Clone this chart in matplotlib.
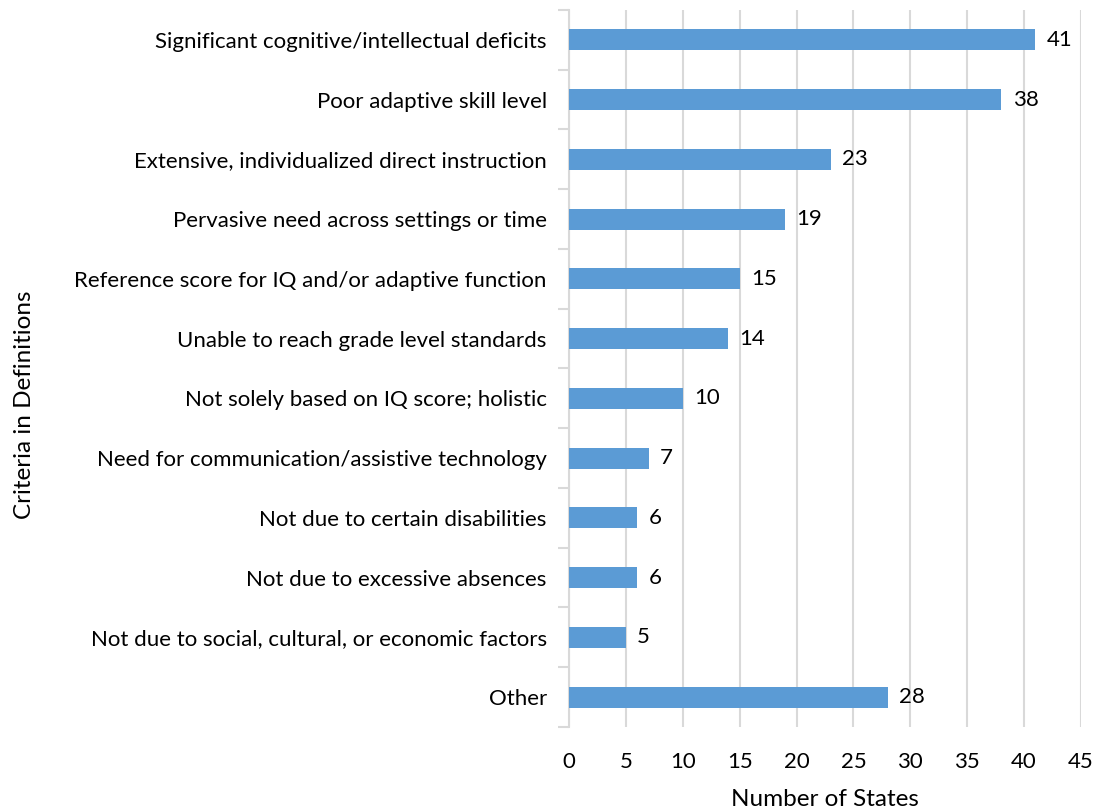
import numpy as np
import matplotlib.pyplot as plt

plt.rcParams['font.family'] = ['Lato', 'DejaVu Sans']

criteria = [
    'Significant cognitive/intellectual deficits',
    'Poor adaptive skill level',
    'Extensive, individualized direct instruction',
    'Pervasive need across settings or time',
    'Reference score for IQ and/or adaptive function',
    'Unable to reach grade level standards',
    'Not solely based on IQ score; holistic',
    'Need for communication/assistive technology',
    'Not due to certain disabilities',
    'Not due to excessive absences',
    'Not due to social, cultural, or economic factors',
    'Other',
]
states = [41, 38, 23, 19, 15, 14, 10, 7, 6, 6, 5, 28]
x_ticks = [0, 5, 10, 15, 20, 25, 30, 35, 40, 45]

fig = plt.figure(figsize=(10.97, 8.10), dpi=100)
ax = fig.add_axes([0.5187, 0.1025, 0.4667, 0.8852])

y = np.arange(len(criteria))
ax.barh(y, states, height=0.35, color='#5B9BD5', zorder=3)
for yi, v in zip(y, states):
    ax.text(v + 1.0, yi, str(v), va='center', ha='left', fontsize=16, color='#000000')

ax.set_ylim(len(criteria) - 0.5, -0.5)
ax.set_xlim(0, 45)
ax.set_xticks(x_ticks)
ax.set_yticks(y)
ax.set_yticklabels(criteria, fontsize=16)
ax.set_yticks(np.arange(len(criteria) + 1) - 0.5, minor=True)
ax.tick_params(axis='y', which='major', length=0, pad=16)
ax.tick_params(axis='y', which='minor', length=8, width=1.5, color='#D9D9D9')
ax.tick_params(axis='x', length=0, labelsize=16, pad=18)

ax.grid(axis='x', color='#D9D9D9', linewidth=1.5, zorder=0)
for side in ['top', 'right', 'bottom']:
    ax.spines[side].set_visible(False)
ax.spines['left'].set_color('#D9D9D9')
ax.spines['left'].set_linewidth(1.5)

ax.set_xlabel('Number of States', fontsize=17.5, labelpad=12)
fig.text(0.022, 0.5, 'Criteria in Definitions', rotation=90, va='center', ha='center', fontsize=17.5)

fig.savefig('out.png', dpi=100)
